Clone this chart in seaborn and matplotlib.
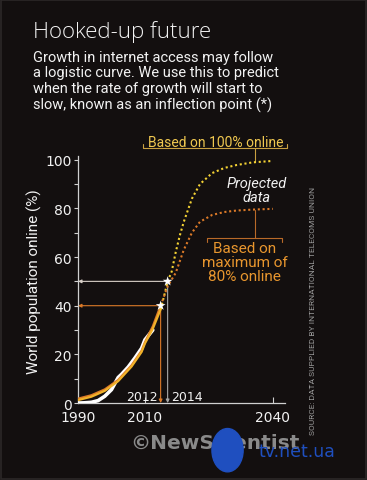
import numpy as np
import pandas as pd
import matplotlib
matplotlib.use("Agg")
import matplotlib.pyplot as plt
from matplotlib.patches import Ellipse, Rectangle
import seaborn as sns

# --- data ---
years_data = [1990, 1992, 1994, 1996, 1998, 2000, 2001, 2002, 2003, 2005, 2007, 2009, 2010, 2011]
online_data = [0, 0.1, 0.3, 1.0, 2.8, 5.5, 8.0, 10.5, 11.8, 14.8, 18.5, 22.5, 26.0, 30.0]

years_fit = [1990, 1994, 1998, 2002, 2006, 2009, 2010, 2011, 2012]
fit_100 = [1.2, 2.6, 5.0, 9.0, 15.0, 21.0, 24.5, 30.5, 38.5]
fit_80 = [1.8, 3.2, 5.6, 9.5, 15.5, 21.5, 25.0, 31.5, 40.0]

years_proj_100 = [2012, 2013, 2014, 2015, 2016, 2017, 2018, 2020, 2022, 2025, 2028, 2031, 2035, 2040]
proj_100 = [38.5, 44, 50, 54, 62, 68.8, 74.5, 84, 90, 94.5, 96.6, 97.8, 98.9, 99.5]

years_proj_80 = [2012, 2013, 2014, 2016, 2018, 2020, 2022, 2025, 2028, 2031, 2035, 2040]
proj_80 = [40, 44, 48, 53.5, 63, 70, 74.5, 77.3, 78.5, 79.1, 79.5, 79.8]

inflection_years = [2012, 2014]
inflection_values = [40, 50]

x_ticks = [1990, 2010, 2040]
y_ticks = [0, 20, 40, 60, 80, 100]

# the original graphic's time axis is not evenly spaced
scale_years = [1980, 1990, 2010, 2012, 2014, 2040, 2050]
scale_pos = [-33.5, 0, 67, 82.7, 89.7, 195, 235.4]

def fwd(x):
    return np.interp(x, scale_years, scale_pos)

def inv(u):
    return np.interp(u, scale_pos, scale_years)

BG = "#130f0f"
WHITE = "#f2f2f2"
YELLOW = "#f4d234"
GOLD = "#f0b22a"
ORANGE = "#dc7a28"
ORANGE_TXT = "#e8962e"
GREY = "#a8a8a8"
NARROW = ["Roboto", "DejaVu Sans"]

sns.set_theme(style="dark", rc={"axes.facecolor": BG, "figure.facecolor": BG})
plt.rcParams["font.family"] = ["DejaVu Sans"]

fig = plt.figure(figsize=(3.67, 4.81), dpi=100)
ax = fig.add_axes([0.2125, 0.160, 0.564, 0.5135])
ax.set_xscale("function", functions=(fwd, inv))

sns.lineplot(x=years_data, y=online_data, color="white", lw=2.6, ax=ax, zorder=3)
sns.lineplot(x=years_fit, y=fit_80, color=ORANGE, lw=1.6, ax=ax, zorder=4)
sns.lineplot(x=years_fit, y=fit_100, color=GOLD, lw=1.6, ax=ax, zorder=4)
sns.lineplot(x=years_proj_100, y=proj_100, color=YELLOW, lw=1.5, ax=ax,
             linestyle=(0, (1, 1.3)), zorder=4)
sns.lineplot(x=years_proj_80, y=proj_80, color=ORANGE, lw=1.5, ax=ax,
             linestyle=(0, (1, 1.3)), zorder=4)

# inflection points and guide arrows
guide_cols = [ORANGE, "#d8d0c8"]
vert_cols = [ORANGE, GREY]
for yr, val, hc, vc in zip(inflection_years, inflection_values, guide_cols, vert_cols):
    ax.annotate("", xy=(1990, val), xytext=(yr, val),
                arrowprops=dict(arrowstyle="-|>", color=hc, lw=0.8,
                                mutation_scale=5, shrinkA=0, shrinkB=0), zorder=2)
    ax.annotate("", xy=(yr, 0), xytext=(yr, val),
                arrowprops=dict(arrowstyle="-|>", color=vc, lw=0.8,
                                mutation_scale=5, shrinkA=0, shrinkB=0), zorder=2)
sns.scatterplot(x=inflection_years, y=inflection_values, marker="*", s=55,
                color="white", edgecolor="none", ax=ax, zorder=6)

ax.text(2011.65, 2.8, "2012", color=WHITE, fontsize=9, ha="right", va="center")
ax.text(2014.8, 2.8, "2014", color=WHITE, fontsize=9, ha="left", va="center")

ax.set_xlim(1990, 2043)
ax.set_ylim(0, 101.5)
ax.set_xticks(x_ticks)
ax.set_yticks(y_ticks)
ax.set_yticks([10, 30, 50, 70, 90], minor=True)
ax.tick_params(axis="y", which="both", direction="out", length=3, width=0.8,
               color="#d0d0d0", labelcolor=WHITE, labelsize=10, pad=1.5, left=True)
ax.tick_params(axis="x", direction="in", length=4, width=0.8, color="#d0d0d0",
               labelcolor=WHITE, labelsize=10, pad=5, bottom=True)
ax.grid(False)
for s in ["top", "right"]:
    ax.spines[s].set_visible(False)
for s in ["left", "bottom"]:
    ax.spines[s].set_color("#d0d0d0")
    ax.spines[s].set_linewidth(0.9)

ax.set_xlabel("")
ax.set_ylabel("World population online (%)", color=WHITE, fontsize=11, family=NARROW)
ax.yaxis.set_label_coords(-0.175, 0.494)

# annotations
ax.text(2025.9, 107.4, "Based on 100% online", color="#f0c850", fontsize=10,
        ha="center", va="center", clip_on=False, family=NARROW)
ax.plot([2009.4, 2009.4, 2043.6, 2043.6], [106.4, 104.7, 104.7, 106.4],
        color="#c9a040", lw=0.8, clip_on=False)
ax.plot([2035.5, 2035.5], [104.7, 99.0], color="#c9a040", lw=0.8, clip_on=False)

ax.text(2036, 87.5, "Projected\ndata", color=WHITE, fontsize=10.5, style="italic",
        ha="center", va="center", linespacing=1.0, family=NARROW)

ax.plot([2023.7, 2023.7, 2042.2, 2042.2], [66.2, 67.8, 67.8, 66.2],
        color="#b86a28", lw=0.8, clip_on=False)
ax.plot([2035.5, 2035.5], [67.8, 79.2], color="#b86a28", lw=0.8)
ax.text(2033.1, 58.0, "Based on\nmaximum of\n80% online", color=ORANGE_TXT,
        fontsize=11, ha="center", va="center", linespacing=1.0, family=NARROW)

# header
fig.text(0.09, 0.933, "Hooked-up future", color=WHITE, fontsize=16,
         fontweight="light", ha="left", va="center",
         family=["Open Sans", "DejaVu Sans"])
fig.text(0.09, 0.895,
         "Growth in internet access may follow\n"
         "a logistic curve. We use this to predict\n"
         "when the rate of growth will start to\n"
         "slow, known as an inflection point (*)",
         color=WHITE, fontsize=10.5, ha="left", va="top", linespacing=1.15,
         family=NARROW)

fig.text(0.853, 0.353, "SOURCE: DATA SUPPLIED BY INTERNATIONAL TELECOMS UNION",
         color="#9a9a9a", fontsize=6, rotation=90, ha="center", va="center",
         family=NARROW)

# watermark
fig.text(0.585, 0.079, "©NewScientist", color="#8a8a8a", fontsize=14.5,
         fontweight="bold", ha="center", va="center")
fig.patches.append(Ellipse((0.62, 0.062), 0.085, 0.09, angle=0, color="#1f4fbf",
                           transform=fig.transFigure, figure=fig, zorder=5))
fig.text(0.81, 0.06, "tv.net.ua", color="#1f4fbf", fontsize=12.5,
         ha="center", va="center", zorder=6)
fig.patches.append(Rectangle((0.002, 0.002), 0.996, 0.996, fill=False,
                             edgecolor="#2c2828", lw=1.2,
                             transform=fig.transFigure, figure=fig))

fig.savefig("out.png", dpi=100, facecolor=BG)
